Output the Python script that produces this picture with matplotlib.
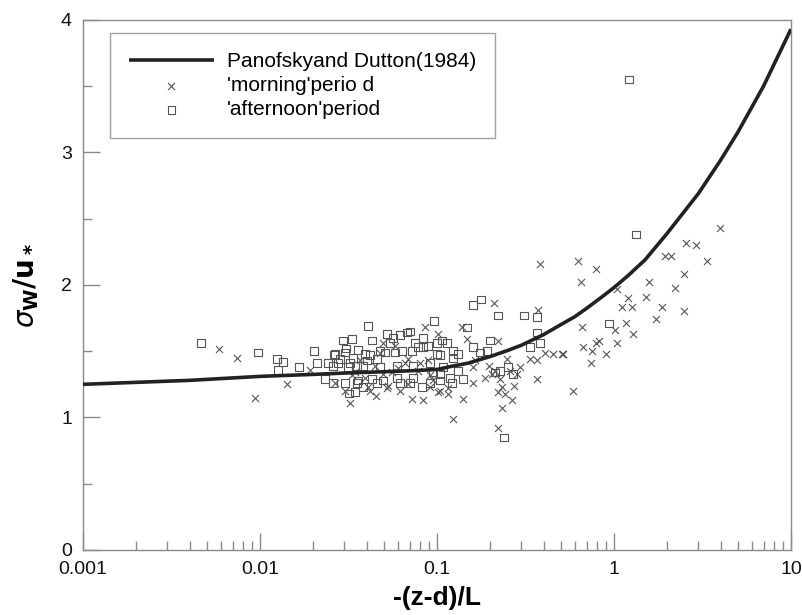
import matplotlib
matplotlib.use("Agg")
import matplotlib.pyplot as plt
from matplotlib.ticker import FixedLocator, FixedFormatter, NullFormatter

plt.rcParams['font.family'] = ['Liberation Sans', 'DejaVu Sans']

# Panofsky and Dutton (1984) curve
curve_x = [0.001, 0.002, 0.004, 0.01, 0.02, 0.03, 0.05, 0.07, 0.1, 0.12, 0.15, 0.2, 0.25,
           0.3, 0.4, 0.5, 0.6, 0.7, 0.85, 1, 1.2, 1.5, 2, 3, 4, 5, 7, 10]
curve_y = [1.25, 1.265, 1.28, 1.31, 1.325, 1.335, 1.345, 1.352, 1.362, 1.385, 1.41, 1.46, 1.505,
           1.545, 1.625, 1.70, 1.76, 1.823, 1.907, 1.98, 2.07, 2.19, 2.39, 2.69, 2.94, 3.15, 3.50, 3.93]

# 'morning' period (crosses)
morning_x = [0.00586, 0.00741, 0.00937, 0.0142, 0.0192, 0.0266, 0.0322, 0.0392, 0.0408, 0.0529,
             0.0618, 0.0722, 0.0834, 0.1013, 0.1153, 0.1231, 0.0495, 0.0855, 0.1013, 0.1384,
             0.1477, 0.2099, 0.372, 0.2213, 0.335, 0.367, 0.407, 0.452, 0.508, 0.1597,
             0.1866, 0.2128, 0.2484, 0.2583, 0.283, 0.294, 0.227, 0.233, 0.221, 0.265,
             0.233, 0.221, 0.367, 0.0949, 0.104, 0.115, 0.140, 0.160, 0.587, 0.659,
             0.626, 0.651, 0.791, 0.382, 3.97, 2.55, 2.91, 3.35, 1.94, 2.10,
             2.48, 1.58, 2.21, 1.04, 1.52, 1.20, 1.11, 1.26, 1.87, 2.48,
             1.73, 1.17, 1.01, 1.28, 1.04, 0.791, 0.823, 0.668, 0.751, 0.901,
             0.741, 0.515, 0.0344, 0.0447, 0.0557, 0.0659, 0.0781, 0.0889, 0.0476, 0.0579,
             0.0367, 0.0302, 0.0452, 0.0686, 0.0912, 0.164, 0.272, 0.197, 0.242, 0.205,
             0.0418, 0.0522, 0.0495, 0.0912, 0.0686, 0.0602, 0.0331, 0.0801]
morning_y = [1.52, 1.45, 1.15, 1.25, 1.36, 1.26, 1.11, 1.30, 1.23, 1.24,
             1.20, 1.14, 1.13, 1.19, 1.22, 0.99, 1.56, 1.68, 1.63, 1.68,
             1.59, 1.86, 1.81, 1.58, 1.44, 1.43, 1.49, 1.48, 1.48, 1.38,
             1.30, 1.35, 1.44, 1.35, 1.33, 1.38, 1.29, 1.23, 1.19, 1.13,
             1.07, 0.92, 1.29, 1.28, 1.20, 1.18, 1.14, 1.26, 1.20, 1.68,
             2.18, 2.02, 2.12, 2.16, 2.43, 2.32, 2.30, 2.18, 2.22, 2.22,
             2.08, 2.02, 1.98, 1.97, 1.91, 1.90, 1.83, 1.83, 1.83, 1.80,
             1.74, 1.71, 1.66, 1.63, 1.56, 1.56, 1.58, 1.53, 1.50, 1.48,
             1.41, 1.48, 1.34, 1.39, 1.34, 1.41, 1.35, 1.43, 1.49, 1.54,
             1.43, 1.20, 1.16, 1.25, 1.32, 1.43, 1.24, 1.39, 1.18, 1.33,
             1.20, 1.22, 1.33, 1.23, 1.44, 1.37, 1.32, 1.41]

# 'afternoon' period (squares)
afternoon_x = [0.00464, 0.00975, 0.01247, 0.01349, 0.01264, 0.0202, 0.0166, 0.0210, 0.0242, 0.0262,
               0.0233, 0.0408, 0.0318, 0.0962, 0.0564, 0.0677, 0.0751, 0.0306, 0.0358, 0.0392,
               0.0476, 0.0542, 0.0579, 0.0634, 0.0781, 0.0889, 0.100, 0.1138, 0.123, 0.1315,
               0.0265, 0.0283, 0.0335, 0.0403, 0.0458,
               0.0258, 0.0314, 0.0382, 0.0476, 0.0594, 0.0731, 0.0912, 0.1081,
               0.0302, 0.0358, 0.0429, 0.0495, 0.0594, 0.0704, 0.0822, 0.0912, 0.104, 0.118,
               0.160, 0.177, 0.221, 0.310, 0.367, 0.1477, 0.1067, 0.100, 0.123, 0.160,
               0.175, 0.192, 0.199, 0.367, 0.335, 0.382, 0.1315, 0.140, 0.1216, 0.0949,
               0.104, 0.213, 0.227, 0.252, 0.269, 0.239, 1.33, 0.937, 1.22,
               0.0294, 0.0331, 0.0429, 0.0522, 0.0618, 0.0704, 0.0834, 0.0344,
               0.0302, 0.0276, 0.0322, 0.0353, 0.0418, 0.0508, 0.0722, 0.0834, 0.104,
               0.0258, 0.0353, 0.0382, 0.0458, 0.0618, 0.0731]
afternoon_y = [1.56, 1.49, 1.44, 1.42, 1.36, 1.50, 1.38, 1.41, 1.41, 1.47,
               1.29, 1.69, 1.18, 1.73, 1.60, 1.64, 1.56, 1.52, 1.51, 1.48,
               1.50, 1.56, 1.49, 1.50, 1.53, 1.54, 1.56, 1.56, 1.50, 1.48,
               1.48, 1.44, 1.45, 1.43, 1.44,
               1.39, 1.38, 1.39, 1.38, 1.39, 1.39, 1.41, 1.38,
               1.26, 1.28, 1.29, 1.28, 1.30, 1.26, 1.23, 1.26, 1.28, 1.30,
               1.85, 1.89, 1.77, 1.77, 1.76, 1.68, 1.58, 1.48, 1.45, 1.53,
               1.49, 1.50, 1.58, 1.64, 1.53, 1.56, 1.35, 1.29, 1.26, 1.34,
               1.33, 1.34, 1.35, 1.38, 1.33, 0.85, 2.38, 1.71, 3.55,
               1.58, 1.59, 1.58, 1.63, 1.62, 1.65, 1.60, 1.19,
               1.49, 1.41, 1.41, 1.39, 1.47, 1.49, 1.50, 1.53, 1.47,
               1.26, 1.26, 1.23, 1.26, 1.26, 1.30]

x_ticks = [0.001, 0.01, 0.1, 1, 10]
x_tick_labels = ['0.001', '0.01', '0.1', '1', '10']
y_ticks = [0, 1, 2, 3, 4]

fig = plt.figure(figsize=(8.03, 6.15), dpi=100)
ax = fig.add_axes([0.1034, 0.1057, 0.8816, 0.862])

mark_col = '#555555'
ax.plot(curve_x, curve_y, color='#222222', lw=2.6, solid_capstyle='butt',
        label='Panofskyand Dutton(1984)', zorder=3)
ax.scatter(morning_x, morning_y, marker='x', s=26, c=mark_col, linewidths=0.8,
           label="'morning'perio d", zorder=2)
ax.scatter(afternoon_x, afternoon_y, marker='s', s=30, facecolors='none',
           edgecolors=mark_col, linewidths=0.8, label="'afternoon'period", zorder=2)

ax.set_xscale('log')
ax.set_xlim(0.001, 10)
ax.set_ylim(0, 4)

ax.xaxis.set_major_locator(FixedLocator(x_ticks))
ax.xaxis.set_major_formatter(FixedFormatter(x_tick_labels))
minors = [m * 10.0 ** e for e in range(-3, 1) for m in range(2, 10)]
ax.xaxis.set_minor_locator(FixedLocator(minors))
ax.xaxis.set_minor_formatter(NullFormatter())
ax.yaxis.set_major_locator(FixedLocator(y_ticks))
ax.yaxis.set_minor_locator(FixedLocator([0.5, 1.5, 2.5, 3.5]))

spine_col = '#8a8a8a'
for s in ax.spines.values():
    s.set_color(spine_col)
    s.set_linewidth(1.0)
ax.tick_params(which='both', direction='in', color=spine_col, width=1.0,
               top=False, right=False, labelsize=14, labelcolor='#111111')
ax.tick_params(which='major', length=12, pad=8)
ax.tick_params(which='minor', length=6.5)

ax.set_xlabel('-(z-d)/L', fontsize=19, fontweight='bold', labelpad=6)
ax.set_ylabel(r'$\sigma_{\mathbf{W}}\mathbf{/u_*}$', fontsize=20, labelpad=14)

leg = ax.legend(loc='upper left', bbox_to_anchor=(0.038, 0.975), fontsize=15,
                frameon=True, fancybox=False, handlelength=4.1, handletextpad=0.62,
                labelspacing=0.25, borderpad=0.9, borderaxespad=0.0, scatterpoints=1)
leg.get_frame().set_edgecolor('#8a8a8a')
leg.get_frame().set_linewidth(1.0)

fig.savefig('out.png', dpi=100)
